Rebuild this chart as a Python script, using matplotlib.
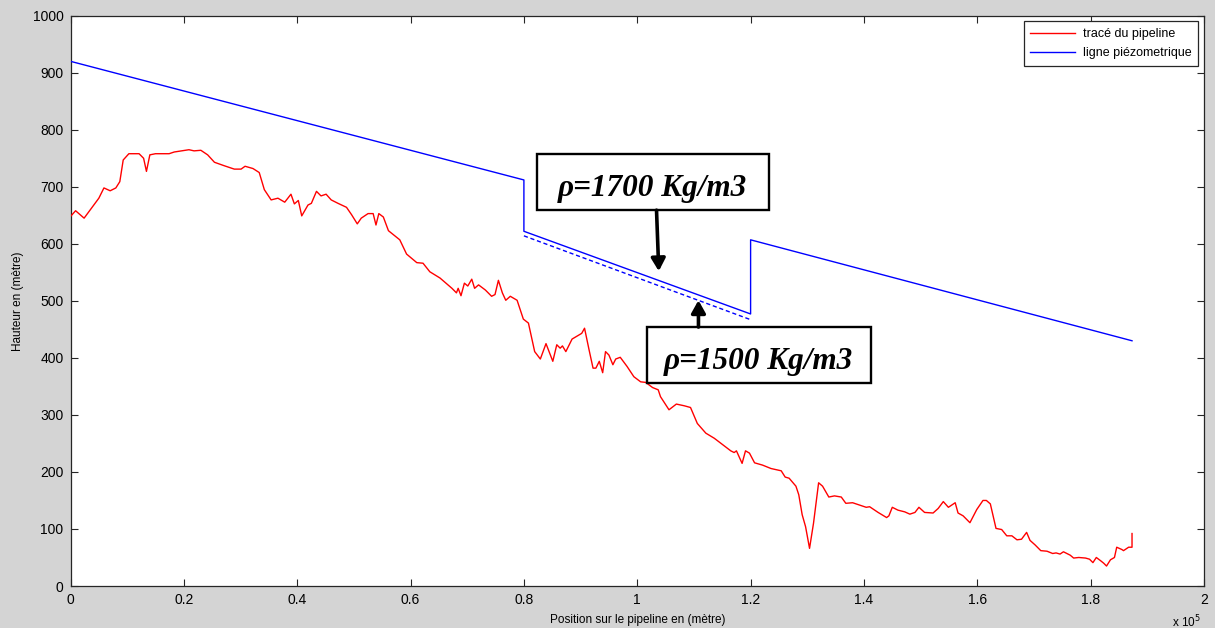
import matplotlib
matplotlib.use("Agg")
import matplotlib.pyplot as plt
from matplotlib.patches import Rectangle
from matplotlib.ticker import FuncFormatter, MultipleLocator

# Pipeline profile: position (units of 1e5 m) and ground elevation (m)
pipe_pos = [0, 0.009, 0.024, 0.05, 0.059, 0.07, 0.08, 0.087, 0.093, 0.103,
            0.121, 0.129, 0.134, 0.140, 0.150, 0.174, 0.183, 0.209, 0.218, 0.230,
            0.242, 0.254, 0.271, 0.289, 0.301, 0.308, 0.322, 0.333, 0.342, 0.354,
            0.366, 0.378, 0.389, 0.395, 0.402, 0.408, 0.419, 0.425, 0.434, 0.442,
            0.451, 0.460, 0.472, 0.487, 0.496, 0.506, 0.513, 0.525, 0.534, 0.539,
            0.544, 0.552, 0.561, 0.581, 0.593, 0.611, 0.622, 0.634, 0.652, 0.673,
            0.681, 0.684, 0.689, 0.695, 0.701, 0.708, 0.713, 0.720, 0.732, 0.743,
            0.749, 0.755, 0.762, 0.768, 0.776, 0.788, 0.799, 0.808, 0.819, 0.829,
            0.839, 0.851, 0.858, 0.864, 0.868, 0.874, 0.885, 0.897, 0.902, 0.907,
            0.915, 0.922, 0.927, 0.933, 0.939, 0.944, 0.950, 0.957, 0.962, 0.970,
            0.982, 0.994, 1.006, 1.015, 1.027, 1.037, 1.041, 1.056, 1.069, 1.083,
            1.094, 1.106, 1.121, 1.136, 1.153, 1.165, 1.171, 1.175, 1.185, 1.191,
            1.198, 1.207, 1.221, 1.236, 1.254, 1.261, 1.268, 1.280, 1.285, 1.291,
            1.297, 1.304, 1.311, 1.320, 1.327, 1.338, 1.348, 1.360, 1.368, 1.380,
            1.392, 1.404, 1.410, 1.425, 1.440, 1.444, 1.450, 1.460, 1.472, 1.481,
            1.490, 1.497, 1.507, 1.522, 1.531, 1.540, 1.549, 1.561, 1.566, 1.575,
            1.587, 1.599, 1.610, 1.616, 1.623, 1.633, 1.643, 1.652, 1.661, 1.670,
            1.678, 1.687, 1.693, 1.702, 1.712, 1.723, 1.733, 1.739, 1.746, 1.752,
            1.764, 1.770, 1.779, 1.791, 1.798, 1.804, 1.810, 1.818, 1.823, 1.828,
            1.835, 1.842, 1.846, 1.855, 1.858, 1.867, 1.873, 1.873]
pipe_elev = [648, 658, 645, 680, 698, 693, 698, 709, 747, 758,
             758, 750, 727, 756, 758, 758, 761, 765, 763, 764,
             756, 743, 737, 731, 731, 736, 732, 725, 695, 677,
             680, 673, 687, 670, 676, 649, 668, 671, 692, 684,
             687, 677, 671, 664, 651, 635, 645, 653, 653, 633,
             653, 647, 623, 607, 582, 567, 566, 551, 540, 522,
             514, 522, 509, 531, 526, 538, 522, 528, 519, 508,
             511, 536, 514, 501, 508, 501, 468, 461, 411, 398,
             425, 394, 423, 417, 421, 411, 433, 440, 443, 452,
             414, 382, 382, 394, 374, 411, 405, 388, 398, 401,
             385, 367, 358, 357, 348, 344, 332, 309, 319, 316,
             313, 285, 268, 259, 246, 237, 234, 237, 215, 237,
             233, 216, 212, 206, 202, 191, 189, 175, 160, 125,
             104, 66, 110, 181, 175, 156, 158, 156, 145, 146,
             142, 138, 139, 129, 120, 123, 138, 133, 130, 126,
             129, 138, 129, 128, 136, 148, 138, 146, 128, 123,
             111, 134, 150, 150, 144, 101, 99, 88, 88, 81,
             82, 94, 80, 72, 62, 61, 57, 58, 56, 60,
             54, 49, 50, 49, 47, 41, 50, 44, 40, 35,
             46, 50, 68, 64, 62, 68, 68, 92]

# Hydraulic grade line (rho = 1700 kg/m3), with booster steps
piezo_pos = [0, 0.8, 0.8, 1.2, 1.2, 1.873]
piezo_head = [920, 712, 622, 477, 607, 430]

# Grade line for rho = 1500 kg/m3 on the middle section
piezo_alt_pos = [0.8, 1.2]
piezo_alt_head = [614, 467]

SCALE = 1e5

plt.rcParams['font.family'] = ['Liberation Sans', 'DejaVu Sans']

fig = plt.figure(figsize=(12.15, 6.28), dpi=100, facecolor='#d4d4d4')
ax = fig.add_axes([70.5 / 1215, (628 - 586) / 628, (1204 - 70.5) / 1215, (586 - 15.7) / 628])
ax.set_facecolor('white')

ax.plot([p * SCALE for p in pipe_pos], pipe_elev, color='#ff0000', lw=1.0,
        label='tracé du pipeline', zorder=3)
ax.plot([p * SCALE for p in piezo_pos], piezo_head, color='#0000ff', lw=1.0,
        label='ligne piézometrique', zorder=3)
ax.plot([p * SCALE for p in piezo_alt_pos], piezo_alt_head, color='#0000ff', lw=1.0,
        ls=(0, (3, 2)), zorder=3)

ax.set_xlim(0, 2e5)
ax.set_ylim(0, 1000)
ax.xaxis.set_major_locator(MultipleLocator(0.2e5))
ax.yaxis.set_major_locator(MultipleLocator(100))
ax.xaxis.set_major_formatter(FuncFormatter(lambda v, _: f"{v / SCALE:g}"))
ax.tick_params(direction='in', length=5, width=0.8, top=True, right=True,
               labelsize=10, colors='#262626', labelcolor='black', pad=5)
for s in ax.spines.values():
    s.set_linewidth(0.9)
    s.set_color('#262626')

ax.set_xlabel('Position sur le pipeline en (mètre)', fontsize=8.5, labelpad=5)
ax.set_ylabel('Hauteur en (mètre)', fontsize=8.5, labelpad=6)
fig.text(1186 / 1215, 1 - 622 / 628, r'x 10$^5$', fontsize=8.5, ha='center', va='center')

leg = ax.legend(loc='upper right', fontsize=9, frameon=True, fancybox=False,
                edgecolor='#262626', framealpha=1, handlelength=3.6,
                borderaxespad=0.45, borderpad=0.55, labelspacing=0.55, handletextpad=0.6)
leg.get_frame().set_linewidth(0.9)

# Annotation boxes with density labels
boxes = [
    (0.823, 659, 1.232, 757, 'ρ=1700 Kg/m3'),
    (1.017, 356, 1.412, 454, 'ρ=1500 Kg/m3'),
]
for x0, y0, x1, y1, txt in boxes:
    ax.add_patch(Rectangle((x0 * SCALE, y0), (x1 - x0) * SCALE, y1 - y0,
                           facecolor='white', edgecolor='black', lw=1.7, zorder=5))
    ax.text((x0 + x1) / 2 * SCALE, (y0 + y1) / 2 - 11, txt, ha='center', va='center',
            fontsize=22.5, fontweight='bold', fontstyle='italic',
            family=['Liberation Serif', 'DejaVu Serif'], zorder=6)

arrow_kw = dict(arrowstyle='-|>,head_length=0.75,head_width=0.42', lw=2.6,
                color='black', shrinkA=0, shrinkB=0)
ax.annotate('', xy=(1.038 * SCALE, 552), xytext=(1.034 * SCALE, 659),
            arrowprops=arrow_kw, zorder=6)
ax.annotate('', xy=(1.108 * SCALE, 501), xytext=(1.108 * SCALE, 454),
            arrowprops=arrow_kw, zorder=6)

fig.savefig('out.png', dpi=100, facecolor=fig.get_facecolor())
